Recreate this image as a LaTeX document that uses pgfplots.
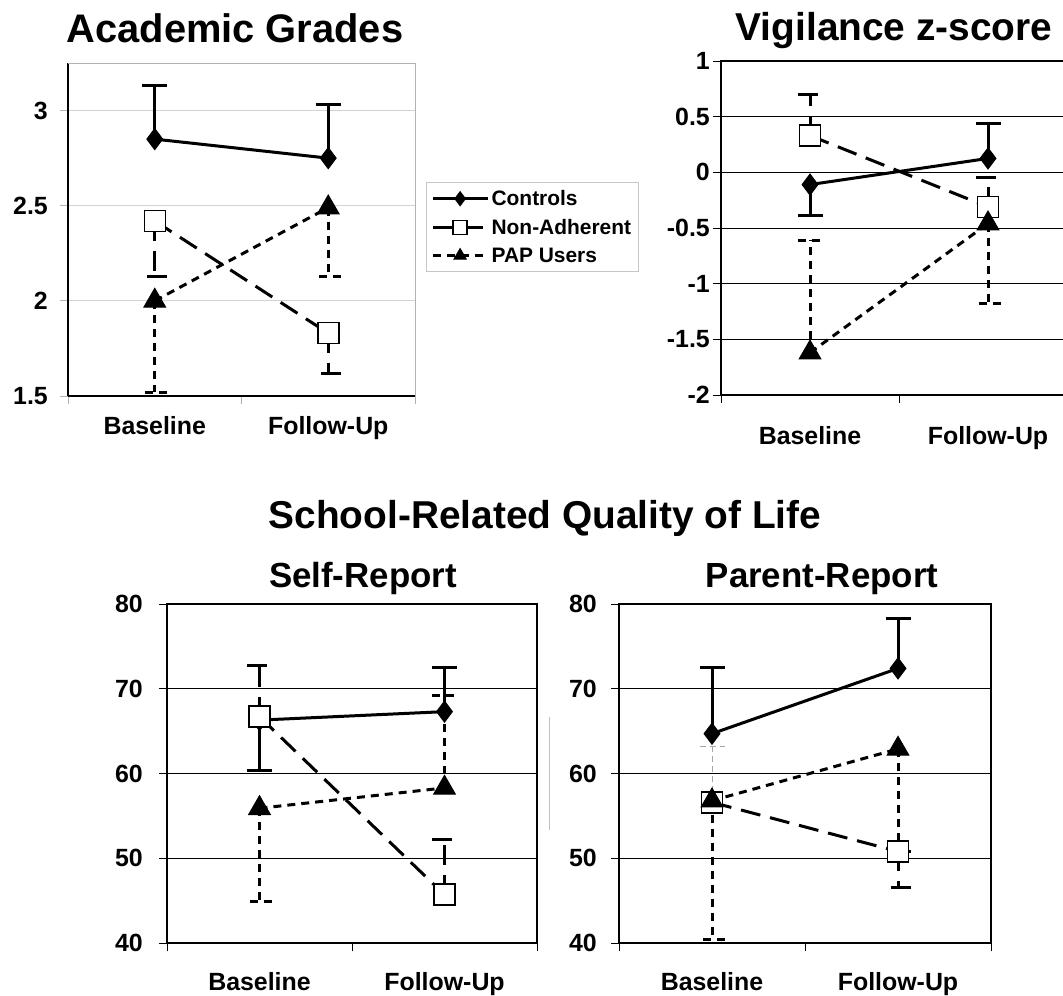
\documentclass[border=0pt]{standalone}
\usepackage{fontspec}
\setmainfont{Liberation Sans}
\usepackage{pgfplots}
\pgfplotsset{compat=1.18}
\pgfplotsset{
  common/.style={
    scale only axis, anchor=south west,
    xmin=0, xmax=2,
    xtick={0,1,2}, xticklabels={,,},
    extra x ticks={0.5,1.5}, extra x tick labels={Baseline,Follow-Up},
    extra x tick style={major tick length=0pt},
    tick align=outside, tick pos=left,
    major tick length=8bp,
    every tick label/.append style={font=\bfseries\fontsize{25}{25}\selectfont, inner sep=0pt},
    xticklabel style={anchor=north},
    yticklabel style={anchor=east},
    clip=false,
    legend image code/.code={
      \draw[mark repeat=2,mark phase=2,##1, mark size=7bp] plot coordinates {(0bp,0bp) (27bp,0bp) (55bp,0bp)};
    },
  },
  ctrl/.style={black, solid, line width=3bp, mark=diamond*, mark size=10.5bp, mark options={solid, fill=black, line width=1bp}},
  nonad/.style={black, dash pattern=on 20bp off 10bp, line width=3bp, mark=square*, mark size=10.5bp, mark options={solid, fill=white, line width=1.5bp}},
  pap/.style={black, dash pattern=on 8bp off 6bp, line width=3bp, mark=triangle*, mark size=12.5bp, mark options={solid, fill=black, line width=1bp}},
  eb/.style n args={2}{only marks, mark=none, forget plot, black, line width=3bp, #2,
    error bars/.cd, y dir=#1, y explicit, error mark=-,
    error bar style={black, line width=3bp, #2},
    error mark options={black, line width=3bp, mark size=12.5bp, rotate=90, #2}},
}
\begin{document}
\begin{tikzpicture}
\useasboundingbox (0bp,0bp) rectangle (1063bp,-996bp);
\clip (0bp,0bp) rectangle (1063bp,-996bp);
\begin{scope}[overlay]

% titles
\node[anchor=base, inner sep=0pt, font=\bfseries\fontsize{40}{48}\selectfont] at (235bp,-42bp) {Academic Grades};
\node[anchor=base, inner sep=0pt, font=\bfseries\fontsize{39}{46}\selectfont] at (894bp,-40bp) {Vigilance z-score};
\node[anchor=base, inner sep=0pt, font=\bfseries\fontsize{39}{46}\selectfont] at (545bp,-528bp) {School-Related Quality of Life};
\node[anchor=base, inner sep=0pt, font=\bfseries\fontsize{35}{42}\selectfont] at (363bp,-587bp) {Self-Report};
\node[anchor=base, inner sep=0pt, font=\bfseries\fontsize{35}{42}\selectfont] at (822bp,-587bp) {Parent-Report};
\draw[gray!50, line width=1bp] (549bp,-717bp) -- (549bp,-830bp);

% ---------------- Academic Grades
\begin{axis}[common, at={(68bp,-396bp)}, width=347bp, height=333bp,
  ymin=1.5, ymax=3.25, ytick={1.5,2,2.5,3}, yticklabels={1.5,2,2.5,3},
  axis x line*=bottom, axis y line*=left,
  axis line style={black, line width=1.5bp},
  tick style={gray!60, line width=1bp},
  ymajorgrids, grid style={gray!35, line width=1bp},
  xticklabel style={yshift=-20bp},
  yticklabel style={xshift=-12bp},
  legend style={at={(1.032,0.643)}, anchor=north west, draw=gray!45, line width=1bp,
    font=\bfseries\fontsize{21}{23}\selectfont, row sep=8bp, inner xsep=5bp, inner ysep=6bp,
    cells={anchor=west}},
]
\draw[gray!60, line width=1bp] (rel axis cs:0,1) -- (rel axis cs:1,1) -- (rel axis cs:1,0);
\addplot[eb={plus}{solid}] coordinates {(0.5,2.85) +- (0,0.28) (1.5,2.75) +- (0,0.28)};
\addplot[eb={minus}{dash pattern=on 20bp off 10bp}] coordinates {(0.5,2.42) +- (0,0.29) (1.5,1.83) +- (0,0.21)};
\addplot[eb={minus}{dash pattern=on 8bp off 6bp}] coordinates {(0.5,2.0) +- (0,0.48) (1.5,2.49) +- (0,0.36)};
\addplot[ctrl] coordinates {(0.5,2.85) (1.5,2.75)};
\addlegendentry{Controls}
\addplot[nonad] coordinates {(0.5,2.42) (1.5,1.83)};
\addlegendentry{Non-Adherent}
\addplot[pap] coordinates {(0.5,2.0) (1.5,2.49)};
\addlegendentry{PAP Users}
\end{axis}

% ---------------- Vigilance
\begin{axis}[common, at={(721bp,-395bp)}, width=356bp, height=334bp,
  ymin=-2, ymax=1, ytick={-2,-1.5,-1,-0.5,0,0.5,1}, yticklabels={-2,-1.5,-1,-0.5,0,0.5,1},
  axis line style={black, line width=1.5bp},
  tick style={black, line width=1bp},
  ymajorgrids, grid style={black, line width=1bp},
  xticklabel style={yshift=-31bp},
  yticklabel style={xshift=-3bp},
]
\addplot[eb={minus}{solid}] coordinates {(0.5,-0.11) +- (0,0.28)};
\addplot[eb={plus}{solid}] coordinates {(1.5,0.125) +- (0,0.315)};
\addplot[eb={plus}{dash pattern=on 20bp off 10bp}] coordinates {(0.5,0.33) +- (0,0.37) (1.5,-0.31) +- (0,0.26)};
\addplot[eb={plus}{dash pattern=on 8bp off 6bp}] coordinates {(0.5,-1.62) +- (0,1.01)};
\addplot[eb={minus}{dash pattern=on 8bp off 6bp}] coordinates {(1.5,-0.46) +- (0,0.72)};
\addplot[ctrl] coordinates {(0.5,-0.11) (1.5,0.125)};
\addplot[nonad] coordinates {(0.5,0.33) (1.5,-0.31)};
\addplot[pap] coordinates {(0.5,-1.62) (1.5,-0.46)};
\end{axis}

% ---------------- Self-Report
\begin{axis}[common, at={(167bp,-943bp)}, width=370bp, height=339bp,
  ymin=40, ymax=80, ytick={40,50,60,70,80}, yticklabels={40,50,60,70,80},
  axis line style={black, line width=1.5bp},
  tick style={black, line width=1bp},
  ymajorgrids, grid style={black, line width=1bp},
  xticklabel style={yshift=-29bp},
  yticklabel style={xshift=-16bp},
]
\addplot[eb={minus}{solid}] coordinates {(0.5,66.3) +- (0,6.0)};
\addplot[eb={plus}{solid}] coordinates {(1.5,67.3) +- (0,5.2)};
\addplot[eb={plus}{dash pattern=on 20bp off 10bp}] coordinates {(0.5,66.7) +- (0,6.0) (1.5,45.7) +- (0,6.5)};
\addplot[eb={minus}{dash pattern=on 8bp off 6bp}] coordinates {(0.5,55.9) +- (0,11.0)};
\addplot[eb={plus}{dash pattern=on 8bp off 6bp}] coordinates {(1.5,58.3) +- (0,10.9)};
\addplot[ctrl] coordinates {(0.5,66.3) (1.5,67.3)};
\addplot[nonad] coordinates {(0.5,66.7) (1.5,45.7)};
\addplot[pap] coordinates {(0.5,55.9) (1.5,58.3)};
\end{axis}

% ---------------- Parent-Report
\begin{axis}[common, at={(619bp,-943bp)}, width=372bp, height=339bp,
  ymin=40, ymax=80, ytick={40,50,60,70,80}, yticklabels={40,50,60,70,80},
  axis line style={black, line width=1.5bp},
  tick style={black, line width=1bp},
  ymajorgrids, grid style={black, line width=1bp},
  xticklabel style={yshift=-29bp},
  yticklabel style={xshift=-14bp},
]
\addplot[eb={plus}{solid}] coordinates {(0.5,64.7) +- (0,7.8) (1.5,72.4) +- (0,5.9)};
\addplot[eb={plus}{dash pattern=on 6bp off 4bp, line width=1bp, gray!70}] coordinates {(0.5,56.6) +- (0,6.6)};
\addplot[eb={minus}{dash pattern=on 20bp off 10bp}] coordinates {(1.5,50.8) +- (0,4.3)};
\addplot[eb={minus}{dash pattern=on 8bp off 6bp}] coordinates {(0.5,56.8) +- (0,16.4) (1.5,62.9) +- (0,12.1)};
\addplot[ctrl] coordinates {(0.5,64.7) (1.5,72.4)};
\addplot[nonad] coordinates {(0.5,56.6) (1.5,50.8)};
\addplot[pap] coordinates {(0.5,56.8) (1.5,62.9)};
\end{axis}

\end{scope}
\end{tikzpicture}
\end{document}
